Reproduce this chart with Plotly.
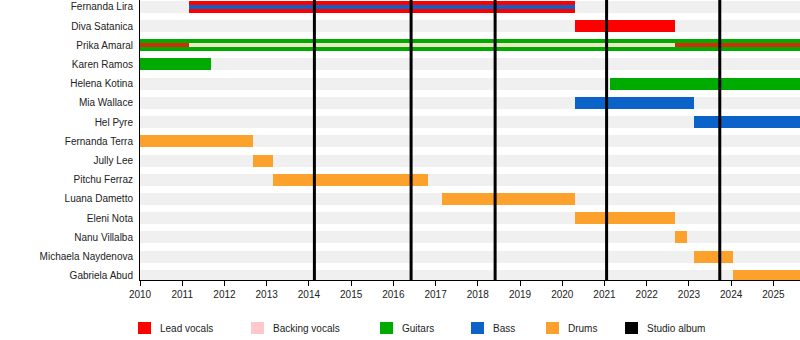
import plotly.graph_objects as go

# ---------------- data ----------------
members = ["Fernanda Lira", "Diva Satanica", "Prika Amaral", "Karen Ramos",
           "Helena Kotina", "Mia Wallace", "Hel Pyre", "Fernanda Terra",
           "Jully Lee", "Pitchu Ferraz", "Luana Dametto", "Eleni Nota",
           "Nanu Villalba", "Michaela Naydenova", "Gabriela Abud"]

START = 2010.0
END = 2025.63

# full-height bars
main_member = ["Fernanda Lira", "Diva Satanica", "Prika Amaral", "Karen Ramos",
               "Helena Kotina", "Mia Wallace", "Hel Pyre", "Fernanda Terra",
               "Jully Lee", "Pitchu Ferraz", "Luana Dametto", "Eleni Nota",
               "Nanu Villalba", "Michaela Naydenova", "Gabriela Abud"]
main_role = ["Lead vocals", "Lead vocals", "Guitars", "Guitars",
             "Guitars", "Bass", "Bass", "Drums",
             "Drums", "Drums", "Drums", "Drums",
             "Drums", "Drums", "Drums"]
main_start = [2011.17, 2020.31, 2010.0, 2010.0, 2021.14, 2020.31, 2023.13, 2010.0,
              2012.67, 2013.16, 2017.15, 2020.31, 2022.66, 2023.13, 2024.04]
main_end = [2020.31, 2022.66, END, 2011.67, END, 2023.13, END, 2012.67,
            2013.16, 2016.83, 2020.31, 2022.66, 2022.96, 2024.04, END]

# inner (secondary role) strips
inner_member = ["Fernanda Lira", "Prika Amaral", "Prika Amaral", "Prika Amaral"]
inner_role = ["Bass", "Lead vocals (inner)", "Backing vocals (inner)", "Lead vocals (inner)"]
inner_start = [2011.17, 2010.0, 2011.17, 2022.66]
inner_end = [2020.31, 2011.17, 2022.66, END]

# studio albums
album_years = [2014.13, 2016.42, 2018.41, 2021.05, 2023.73]

legend_labels = ["Lead vocals", "Backing vocals", "Guitars", "Bass", "Drums", "Studio album"]

# ---------------- styles ----------------
role_colors = {
    "Lead vocals": "#ff0000",
    "Backing vocals": "#ffc8cc",
    "Guitars": "#00ab00",
    "Bass": "#0b62c9",
    "Drums": "#fca12b",
    "Studio album": "#000000",
    "Lead vocals (inner)": "#d62a0e",
    "Backing vocals (inner)": "#eee6c4",
}

W, H = 800, 340
L, R, T, B = 140, 0, 0, 60
pw, ph = W - L - R, H - T - B
row_px = (275 - 6) / 14.0
bar_w = 12 / row_px
inner_w = 4 / row_px
y_top = -6.8 / row_px
y_bot = 14 + 4.2 / row_px

fig = go.Figure()

# background stripes
fig.add_trace(go.Bar(
    y=members, x=[END - START] * len(members), base=[START] * len(members),
    orientation="h", width=bar_w, marker=dict(color="#f0f0f0", line=dict(width=0)),
    hoverinfo="skip", showlegend=False))

for m, r, s, e in zip(main_member, main_role, main_start, main_end):
    fig.add_trace(go.Bar(
        y=[m], x=[e - s], base=[s], orientation="h", width=bar_w,
        marker=dict(color=role_colors[r], line=dict(width=0)),
        hoverinfo="skip", showlegend=False))

for m, r, s, e in zip(inner_member, inner_role, inner_start, inner_end):
    fig.add_trace(go.Bar(
        y=[m], x=[e - s], base=[s], orientation="h", width=inner_w,
        marker=dict(color=role_colors[r], line=dict(width=0)),
        hoverinfo="skip", showlegend=False))

shapes = []
for a in album_years:
    shapes.append(dict(type="line", xref="x", yref="paper", x0=a, x1=a, y0=0, y1=1,
                       line=dict(color="black", width=3), layer="above"))

# manual legend
leg_left_px = [138, 251, 380, 471, 546, 625]
annotations = []
for lbl, lx in zip(legend_labels, leg_left_px):
    x0 = (lx - L) / pw
    x1 = (lx + 13 - L) / pw
    y0 = (T + ph - 334) / ph
    y1 = (T + ph - 322) / ph
    shapes.append(dict(type="rect", xref="paper", yref="paper", x0=x0, x1=x1, y0=y0, y1=y1,
                       fillcolor=role_colors[lbl], line=dict(width=0)))
    annotations.append(dict(xref="paper", yref="paper", x=(lx + 20 - L) / pw,
                            y=(T + ph - 328) / ph, text=lbl, showarrow=False,
                            xanchor="left", yanchor="middle",
                            font=dict(size=10, color="#222")))

fig.update_layout(
    width=W, height=H,
    margin=dict(l=L, r=R, t=T, b=B, pad=0),
    paper_bgcolor="white", plot_bgcolor="white",
    barmode="overlay",
    bargap=0,
    font=dict(family="Liberation Sans, Arial, sans-serif", size=10, color="#222"),
    showlegend=False,
    shapes=shapes,
    annotations=annotations,
    xaxis=dict(range=[START, END], tickmode="linear", tick0=2010, dtick=1,
               tickformat="d", showgrid=False, zeroline=False,
               showline=True, linecolor="black", linewidth=1,
               ticks="outside", ticklen=5, tickcolor="black", tickwidth=1,
               tickfont=dict(size=10, color="#222")),
    yaxis=dict(categoryorder="array", categoryarray=members,
               range=[y_bot, y_top], showgrid=False, zeroline=False,
               showline=True, linecolor="black", linewidth=1,
               ticks="outside", ticklen=4, tickcolor="rgba(0,0,0,0)",
               tickfont=dict(size=10, color="#222")),
)

fig.write_html("out.html")
